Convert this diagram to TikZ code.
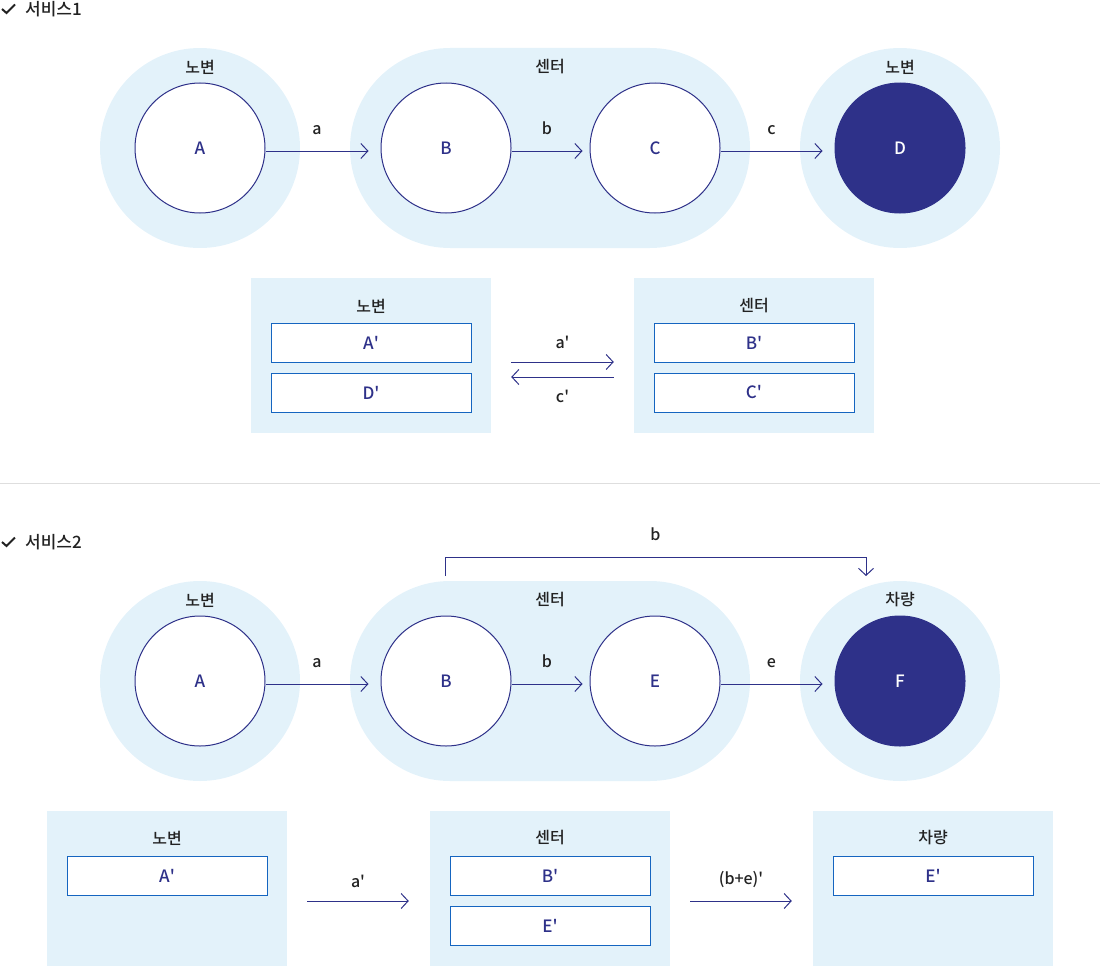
\documentclass[tikz,border=0pt]{standalone}
\usepackage{fontspec}
\setmainfont{Noto Sans CJK KR}[UprightFont={* Medium}, Ligatures=NoCommon]
\usetikzlibrary{positioning,arrows.meta}
\usepackage{xcolor}

\definecolor{skyback}{HTML}{E3F2FA}
\definecolor{navy}{HTML}{2E3189}
\definecolor{boxline}{HTML}{1565C0}
\definecolor{inkgray}{HTML}{222222}
\newcommand{\prm}{\textquotesingle}

\tikzset{
  zone/.style={circle, fill=skyback, minimum size=200pt, inner sep=0pt},
  hub/.style={rectangle, rounded corners=100pt, fill=skyback, minimum width=400pt, minimum height=200pt, inner sep=0pt},
  site/.style={circle, draw=navy, fill=white, line width=1pt, minimum size=130pt, inner sep=0pt, text=navy, font=\fontsize{17}{20}\selectfont},
  goal/.style={site, fill=navy, text=white},
  tag/.style={text=inkgray, inner sep=0pt},
  panel/.style={rectangle, fill=skyback, minimum width=240pt, minimum height=155pt, inner sep=0pt},
  slot/.style={rectangle, draw=boxline, fill=white, line width=1pt, minimum width=200pt, minimum height=39pt, inner sep=0pt, text=navy, font=\fontsize{17}{20}\selectfont},
  link/.style={draw=navy, line width=1pt, -{Straight Barb[length=7pt,width=15pt]}},
  head/.style={text=inkgray, inner sep=0pt, font=\fontsize{17}{20}\selectfont}
}

\begin{document}
\begin{tikzpicture}[x=1pt, y=-1pt, font=\fontsize{16}{19}\selectfont]
\useasboundingbox (0,0) rectangle (1100,966);

% service 1
\draw[inkgray, line width=2pt] (2,9) -- (6.5,13) -- (15,4.5);
\node[head, anchor=west] (s1) at (25,9) {서비스1};

\node[zone] (zA) at (200,148) {};
\node[hub] (zBC) at (550,148) {};
\node[zone] (zD) at (900,148) {};
\node[tag] at (200,67) {노변};
\node[tag] at (550,67) {센터};
\node[tag] at (900,67) {노변};

\node[site] (A) at (200,148) {A};
\node[site] (B) at (446,148) {B};
\node[site] (C) at (655,148) {C};
\node[goal] (D) at (900,148) {D};

\draw[link] ([yshift=-3pt]A.east) -- node[tag, above=16pt] {a} ([xshift=-12pt, yshift=-3pt]B.west);
\draw[link] ([yshift=-3pt]B.east) -- node[tag, above=16pt] {b} ([xshift=-7pt, yshift=-3pt]C.west);
\draw[link] ([yshift=-3pt]C.east) -- node[tag, above=16pt] {c} ([xshift=-12pt, yshift=-3pt]D.west);

\node[panel] (P1) at (371,355.5) {};
\node[tag] at (371,306) {노변};
\node[slot] (A1) at (371,342.5) {A\prm};
\node[slot] (D1) at (371,392.5) {D\prm};

\node[panel] (P2) at (754,355.5) {};
\node[tag] at (754,306) {센터};
\node[slot] (B1) at (754,342.5) {B\prm};
\node[slot] (C1) at (754,392.5) {C\prm};

\draw[link] ([xshift=20pt, yshift=-6.5pt]P1.east) -- node[tag, above=13pt] {a\prm} ([xshift=-20pt, yshift=-6.5pt]P2.west);
\draw[link] ([xshift=-20pt, yshift=-21.5pt]P2.west) -- node[tag, below=13pt] {c\prm} ([xshift=20pt, yshift=-21.5pt]P1.east);

\draw[color=black!13, line width=1pt] (0,483) -- (1100,483);

% service 2
\draw[inkgray, line width=2pt] (2,542) -- (6.5,546) -- (15,537.5);
\node[head, anchor=west] (s2) at (25,542) {서비스2};

\node[zone] (zA2) at (200,681) {};
\node[hub] (zBE) at (550,681) {};
\node[zone] (zF) at (900,681) {};
\node[tag] at (200,600) {노변};
\node[tag] at (550,600) {센터};
\node[tag] at (900,600) {차량};

\node[site] (A2) at (200,681) {A};
\node[site] (B2) at (446,681) {B};
\node[site] (E2) at (655,681) {E};
\node[goal] (F2) at (900,681) {F};

\draw[link] ([yshift=-3pt]A2.east) -- node[tag, above=16pt] {a} ([xshift=-12pt, yshift=-3pt]B2.west);
\draw[link] ([yshift=-3pt]B2.east) -- node[tag, above=16pt] {b} ([xshift=-7pt, yshift=-3pt]E2.west);
\draw[link] ([yshift=-3pt]E2.east) -- node[tag, above=16pt] {e} ([xshift=-12pt, yshift=-3pt]F2.west);

\coordinate (up1) at (445,576);
\coordinate (up2) at (866,576);
\draw[link] (up1) -- (445,557) -- node[tag, above=16pt] {b} (866,557) -- (up2);

\node[panel] (Q1) at (167,888.5) {};
\node[tag] at (167,838) {노변};
\node[slot] (A3) at (167,875.5) {A\prm};

\node[panel] (Q2) at (550,888.5) {};
\node[tag] at (550,838) {센터};
\node[slot] (B3) at (550,875.5) {B\prm};
\node[slot] (E3) at (550,925.5) {E\prm};

\node[panel] (Q3) at (933,888.5) {};
\node[tag] at (933,838) {차량};
\node[slot] (E4) at (933,875.5) {E\prm};

\draw[link] ([xshift=20pt, yshift=-12.5pt]Q1.east) -- node[tag, above=13pt] {a\prm} ([xshift=-21pt, yshift=-12.5pt]Q2.west);
\draw[link] ([xshift=20pt, yshift=-12.5pt]Q2.east) -- node[tag, above=13pt] {(b+e)\prm} ([xshift=-21pt, yshift=-12.5pt]Q3.west);
\end{tikzpicture}
\end{document}
